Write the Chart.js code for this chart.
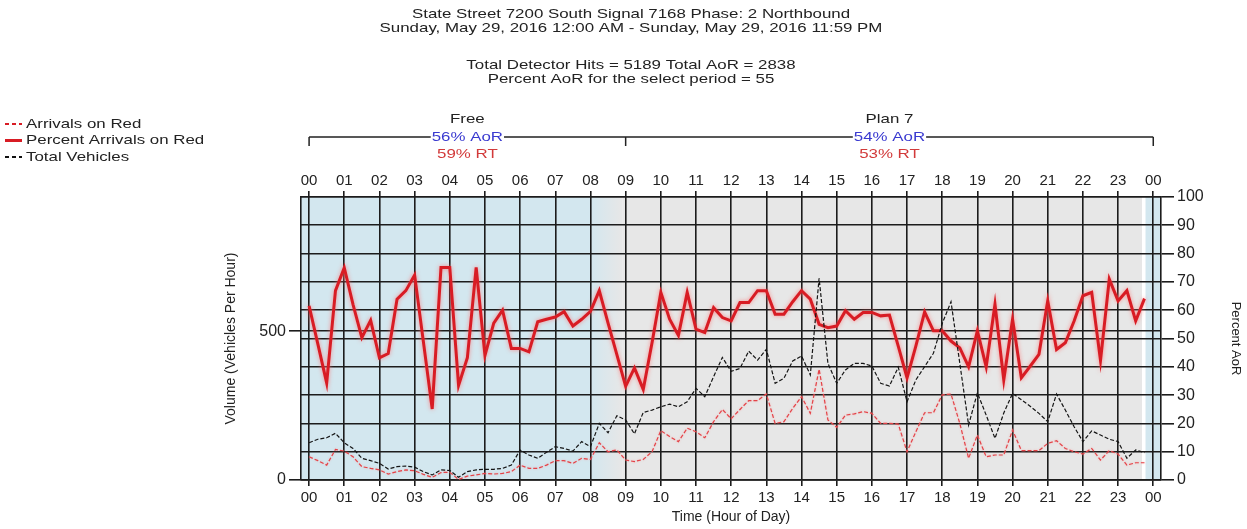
<!DOCTYPE html>
<html>
<head>
<meta charset="utf-8">
<title>Arrivals on Red</title>
<script src="https://cdn.jsdelivr.net/npm/chart.js@4.4.0/dist/chart.umd.min.js"></script>
<style>
  html, body { margin: 0; padding: 0; background: #fff; }
  #wrap { width: 1247px; height: 529px; }
</style>
</head>
<body>
<div id="wrap"><canvas id="aorChart" width="1247" height="529"></canvas></div>
<script>
// header text
const titleLines = [
  'State Street 7200 South Signal 7168 Phase: 2 Northbound',
  'Sunday, May 29, 2016 12:00 AM - Sunday, May 29, 2016 11:59 PM'
];
const statLines = [
  'Total Detector Hits = 5189 Total AoR = 2838',
  'Percent AoR for the select period = 55'
];

// plans
const planNames = ['Free', 'Plan 7'];
const planStarts = [0, 9];
const planEnds = [9, 24];
const planAoR = ['56% AoR', '54% AoR'];
const planRT = ['59% RT', '53% RT'];

// axes
const hourTicks = [0, 1, 2, 3, 4, 5, 6, 7, 8, 9, 10, 11, 12, 13, 14, 15, 16, 17, 18, 19, 20, 21, 22, 23, 24];
const hourLabels = ['00', '01', '02', '03', '04', '05', '06', '07', '08', '09', '10', '11',
  '12', '13', '14', '15', '16', '17', '18', '19', '20', '21', '22', '23', '00'];
const volumeTicks = [0, 500];
const percentTicks = [0, 10, 20, 30, 40, 50, 60, 70, 80, 90, 100];

// 15 minute bins, 00:00 .. 23:45
const percentAoR = [
  61.5, 48, 34.3, 66.9,   75, 62, 50.3, 56.4,   43.2, 44.7, 63.9, 66.9,   72.4, 48.8, 25.1, 75.1,
  75.1, 33.4, 43.2, 75.1, 44, 55.4, 60, 46.5,   46.5, 45.3, 55.9, 56.8,   57.6, 59.5, 54.4, 56.8,
  59.6, 66.9, 55.4, 44.3, 33.1, 39.6, 32, 48.5, 66.3, 56.8, 51.1, 66.3,   53.3, 52.1, 60.9, 57.4,
  56.2, 62.7, 62.7, 66.9, 66.9, 58.6, 58.6, 63,  66.9, 63.9, 55, 53.8,    54.4, 59.8, 56.8, 59.2,
  59.2, 58, 58.3, 47.3,   36.1, 47.3, 59.4, 52.7, 52.7, 49.1, 46.7, 40,   52.7, 40, 62.1, 35.4,
  56.8, 36.1, 40.2, 44.4, 63.3, 46.1, 48.5, 56.2, 65.1, 66.3, 42.2, 71,   63.3, 66.9, 56.2, 64.1
];
const arrivalsOnRed = [
  78, 65, 50, 103,    97, 78, 45, 39,     34, 20, 28, 34,     31, 19, 9, 25,
  26, 2, 13, 17,      22, 20, 22, 28,     50, 39, 39, 50,     65, 65, 56, 73,
  69, 125, 95, 101,   67, 62, 69, 95,     166, 146, 129, 174, 162, 142, 196, 237,
  206, 237, 267, 267, 289, 190, 196, 241, 280, 224, 372, 202, 177, 218, 222, 230,
  224, 190, 190, 188, 95, 162, 226, 226,  286, 289, 190, 73,  151, 78, 84, 84,
  168, 99, 99, 99,    123, 132, 106, 95,  87, 106, 67, 99,    87, 50, 58, 58
];
const totalVehicles = [
  125, 137, 142, 157, 125, 106, 73, 65,   56, 37, 45, 47,     43, 28, 17, 34,
  32, 9, 28, 34,      36, 36, 39, 50,     101, 84, 73, 93,    112, 106, 97, 129,
  112, 190, 159, 216, 202, 155, 227, 235, 246, 255, 246, 263, 308, 280, 347, 412,
  365, 375, 433, 403, 439, 325, 342, 400, 417, 353, 678, 392, 325, 370, 392, 392,
  383, 325, 316, 379, 263, 336, 381, 426, 526, 599, 392, 185, 293, 218, 140, 225,
  291, 270, 248, 224, 196, 289, 235, 179, 129, 165, 151, 137, 129, 73, 101, 92
];

const binMinutes = 15;
const binHours = percentAoR.map((_, i) => i * binMinutes / 60);

const FONT = '"Liberation Sans", Arial, sans-serif';
const GRID = '#1c1c1c';
const RED = '#d81c24';
const BLUE_BG = '#d3e7ef';
const GRAY_BG = '#e7e7e7';
const STRETCH = 1.25; // header text in the original is drawn wide

const toPoints = (vals) => vals.map((v, i) => ({ x: binHours[i], y: v }));

// text drawn a bit wider than it is tall, like the source image
function wideText(ctx, text, x, y, align) {
  ctx.save();
  ctx.translate(x, y);
  ctx.scale(STRETCH, 1);
  ctx.textAlign = align;
  ctx.fillText(text, 0, 0);
  ctx.restore();
}

// soft pink halo round the red lines
const glowPlugin = {
  id: 'glow',
  beforeDatasetDraw(chart, args) {
    const ctx = chart.ctx;
    ctx.save();
    if (args.meta.yAxisID === 'yR') {
      ctx.shadowColor = 'rgba(255, 110, 110, 0.75)';
      ctx.shadowBlur = 4;
    } else if (args.index === 1) {
      ctx.shadowColor = 'rgba(255, 140, 140, 0.6)';
      ctx.shadowBlur = 2;
    }
  },
  afterDatasetDraw(chart) {
    chart.ctx.restore();
  }
};

// draws the plan colours behind the grid, plus the headers and legend
const decorPlugin = {
  id: 'decor',
  beforeDraw(chart) {
    const { ctx, chartArea: a, scales: { x } } = chart;
    const px = (h) => x.getPixelForValue(h);
    ctx.save();
    // Free plan (blue), fading into Plan 7 (gray)
    ctx.fillStyle = BLUE_BG;
    ctx.fillRect(a.left, a.top, px(8.0) - a.left, a.height);
    const g = ctx.createLinearGradient(px(8.0), 0, px(8.9), 0);
    g.addColorStop(0, BLUE_BG);
    g.addColorStop(1, GRAY_BG);
    ctx.fillStyle = g;
    ctx.fillRect(px(8.0), a.top, px(8.9) - px(8.0), a.height);
    ctx.fillStyle = GRAY_BG;
    ctx.fillRect(px(8.9), a.top, px(23.68) - px(8.9), a.height);
    ctx.fillStyle = BLUE_BG;
    ctx.fillRect(px(23.78), a.top, a.right - px(23.78), a.height);
    ctx.restore();
  },
  afterDraw(chart) {
    const { ctx, scales: { x } } = chart;
    const px = (h) => x.getPixelForValue(h);
    ctx.save();
    ctx.textBaseline = 'middle';
    ctx.fillStyle = '#222';
    ctx.font = '13.5px ' + FONT;
    wideText(ctx, titleLines[0], 631, 14, 'center');
    wideText(ctx, titleLines[1], 631, 28, 'center');
    wideText(ctx, statLines[0], 631, 65, 'center');
    wideText(ctx, statLines[1], 631, 79, 'center');

    // plan bracket
    const yLine = 137;
    ctx.strokeStyle = '#222';
    ctx.lineWidth = 1.5;
    ctx.beginPath();
    ctx.moveTo(px(planStarts[0]), yLine);
    ctx.lineTo(px(planEnds[planEnds.length - 1]), yLine);
    planStarts.concat([planEnds[planEnds.length - 1]]).forEach(h => {
      ctx.moveTo(px(h), yLine);
      ctx.lineTo(px(h), yLine + 9);
    });
    ctx.stroke();
    planNames.forEach((name, i) => {
      const cx = (px(planStarts[i]) + px(planEnds[i])) / 2;
      ctx.fillStyle = '#222';
      wideText(ctx, name, cx, yLine - 18, 'center');
      const w = ctx.measureText(planAoR[i]).width * STRETCH;
      ctx.fillStyle = '#fff';
      ctx.fillRect(cx - w / 2 - 1, yLine - 3, w + 2, 6);
      ctx.fillStyle = '#3a3ad0';
      wideText(ctx, planAoR[i], cx, yLine, 'center');
      ctx.fillStyle = '#d23a3a';
      wideText(ctx, planRT[i], cx, yLine + 17, 'center');
    });

    // legend
    const items = [
      { label: 'Arrivals on Red', color: RED, dash: [4, 3], width: 2 },
      { label: 'Percent Arrivals on Red', color: RED, dash: [], width: 3 },
      { label: 'Total Vehicles', color: '#111', dash: [4, 3], width: 2 }
    ];
    items.forEach((it, i) => {
      const y = 124 + i * 16.5;
      ctx.strokeStyle = it.color;
      ctx.lineWidth = it.width;
      ctx.setLineDash(it.dash);
      ctx.beginPath();
      ctx.moveTo(5, y);
      ctx.lineTo(22, y);
      ctx.stroke();
      ctx.setLineDash([]);
      ctx.fillStyle = '#222';
      wideText(ctx, it.label, 26, y, 'left');
    });
    ctx.restore();
  }
};

const hourAxis = (position, height, showGrid) => ({
  type: 'linear',
  position: position,
  min: -0.23,
  max: 24.22,
  afterBuildTicks: s => { s.ticks = hourTicks.map(v => ({ value: v })); },
  afterFit: s => { s.height = height; },
  ticks: {
    autoSkip: false,
    maxRotation: 0,
    padding: position === 'top' ? 1 : 3,
    color: '#222',
    font: { family: FONT, size: 15 },
    callback: (v, i) => hourLabels[i]
  },
  grid: { color: GRID, lineWidth: 1.6, tickLength: 6, drawOnChartArea: showGrid },
  border: { color: GRID, width: 1.6 }
});

const xBottom = hourAxis('bottom', 49, true);
xBottom.title = {
  display: true, text: 'Time (Hour of Day)', color: '#222',
  font: { family: FONT, size: 14 }, padding: { top: 2, bottom: 3 }
};

new Chart(document.getElementById('aorChart'), {
  type: 'line',
  data: {
    datasets: [
      {
        label: 'Total Vehicles',
        data: toPoints(totalVehicles),
        yAxisID: 'yL',
        borderColor: '#151515',
        borderWidth: 1.2,
        borderDash: [4, 2],
        pointRadius: 0,
        tension: 0
      },
      {
        label: 'Arrivals on Red',
        data: toPoints(arrivalsOnRed),
        yAxisID: 'yL',
        borderColor: '#e34348',
        borderWidth: 1.2,
        borderDash: [4, 2],
        pointRadius: 0,
        tension: 0
      },
      {
        label: 'Percent Arrivals on Red',
        data: toPoints(percentAoR),
        yAxisID: 'yR',
        borderColor: RED,
        borderWidth: 3,
        pointRadius: 0,
        tension: 0
      }
    ]
  },
  options: {
    responsive: false,
    animation: false,
    events: [],
    layout: { padding: { left: 220, right: 0, top: 160, bottom: 0 } },
    plugins: { legend: { display: false }, tooltip: { enabled: false } },
    scales: {
      x: xBottom,
      xTop: hourAxis('top', 37, false),
      yL: {
        position: 'left',
        min: 0,
        max: 951,
        afterBuildTicks: s => { s.ticks = volumeTicks.map(v => ({ value: v })); },
        afterFit: s => { s.width = 81; },
        ticks: { color: '#222', padding: 3, font: { family: FONT, size: 16 } },
        grid: { color: GRID, lineWidth: 1.6, tickLength: 12 },
        border: { color: GRID, width: 1.6 },
        title: {
          display: true, text: 'Volume (Vehicles Per Hour)', color: '#222',
          font: { family: FONT, size: 14 }, padding: { top: 3, bottom: 4 }
        }
      },
      yR: {
        position: 'right',
        min: 0,
        max: 100,
        afterBuildTicks: s => { s.ticks = percentTicks.map(v => ({ value: v })); },
        afterFit: s => { s.width = 86; },
        ticks: { color: '#222', padding: 3, font: { family: FONT, size: 16 } },
        grid: { color: GRID, lineWidth: 1.6, tickLength: 13 },
        border: { color: GRID, width: 1.6 },
        title: {
          display: true, text: 'Percent AoR', color: '#222',
          font: { family: FONT, size: 13 }, padding: { top: 4, bottom: 4 }
        }
      }
    }
  },
  plugins: [glowPlugin, decorPlugin]
});
</script>
</body>
</html>
